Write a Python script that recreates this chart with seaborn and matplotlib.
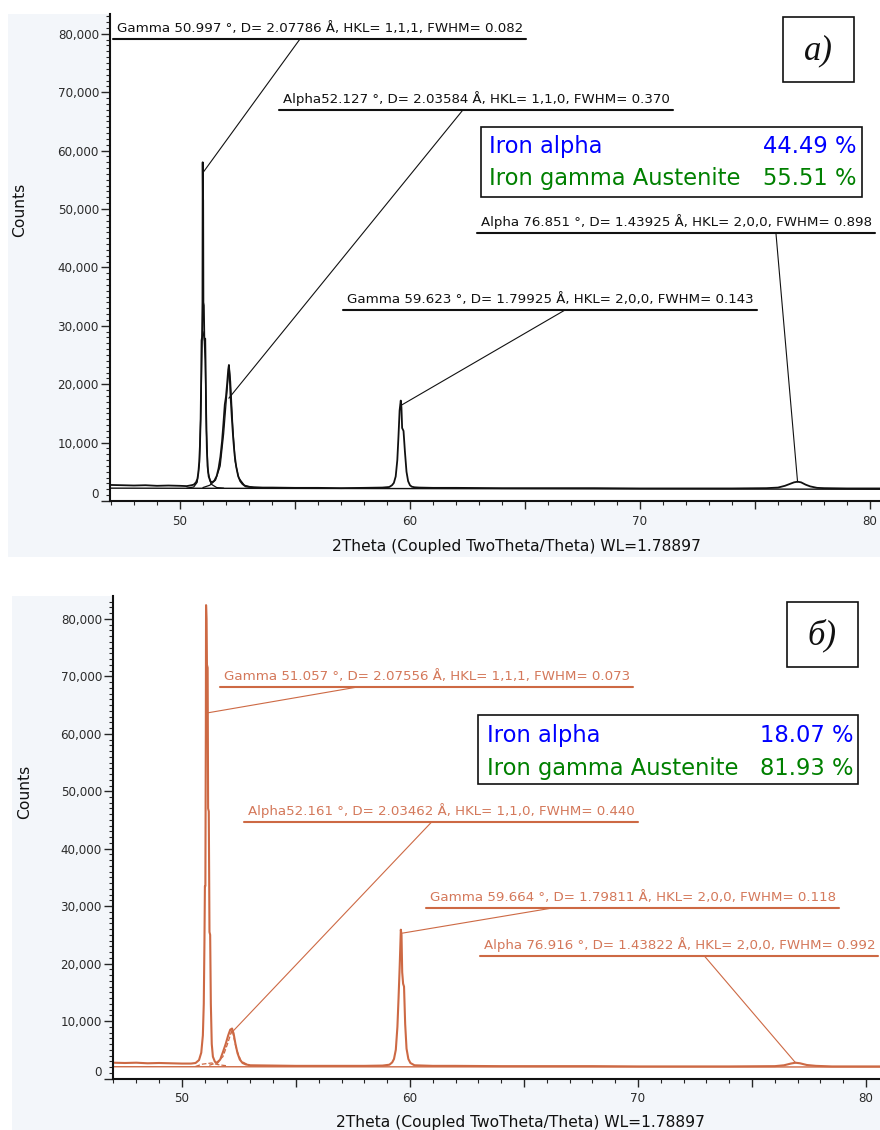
import matplotlib
matplotlib.use("Agg")
import matplotlib.pyplot as plt
import matplotlib.patches as mpatches
import matplotlib.transforms as mtransforms
from matplotlib.ticker import MultipleLocator, FuncFormatter
import seaborn as sns

sns.set_style("ticks")
plt.rcParams["font.family"] = ["DejaVu Sans"]

# ---------------- panel a) : measured pattern ----------------
two_theta_a = [46.96, 47.5, 48.0, 48.5, 49.0, 49.5, 50.0, 50.3, 50.5, 50.6, 50.7, 50.76,
               50.8, 50.84, 50.87, 50.9, 50.92, 50.94, 50.96, 50.98, 50.99, 51.0, 51.01,
               51.02, 51.04, 51.06, 51.08, 51.1, 51.12, 51.14, 51.17, 51.2, 51.25, 51.32,
               51.4, 51.5, 51.6, 51.68, 51.76, 51.83, 51.89, 51.95, 52.0, 52.05, 52.1, 52.13,
               52.16, 52.2, 52.26, 52.32, 52.38, 52.45, 52.53, 52.62, 52.72, 52.85, 53.0, 53.3,
               53.6, 54.0, 55.0, 56.0, 57.0, 58.0, 58.8, 59.1, 59.22, 59.3, 59.38, 59.45,
               59.5, 59.55, 59.6, 59.63, 59.66, 59.72, 59.78, 59.85, 59.92, 60.0, 60.08,
               60.2, 60.4, 61.0, 62.0, 64.0, 66.0, 68.0, 70.0, 72.0, 74.0, 75.5, 76.0, 76.3,
               76.5, 76.7, 76.85, 77.0, 77.2, 77.4, 77.7, 78.0, 79.0, 80.0, 81.0, 82.3]
counts_a = [2750, 2700, 2650, 2700, 2600, 2650, 2600, 2550, 2700, 2800, 3200, 3800,
            4800, 6800, 9500, 14000, 20000, 27500, 28000, 34000, 58000, 52000, 51500,
            34000, 33500, 28000, 27500, 27800, 22000, 15000, 9000, 6000, 4200, 3400,
            3200, 3500, 4300, 5600, 7600, 10200, 13200, 16500, 17800, 20000, 22500, 23300,
            21500, 18000, 14000, 10500, 7800, 5800, 4300, 3400, 2900, 2500, 2400, 2350,
            2300, 2300, 2250, 2250, 2200, 2250, 2300, 2400, 2700, 3100, 4200, 7000,
            11000, 15500, 17200, 16000, 12500, 12000, 8500, 5000, 3400, 2700, 2450,
            2350, 2300, 2250, 2250, 2200, 2200, 2200, 2150, 2150, 2150, 2200, 2300, 2600,
            2900, 3200, 3300, 3200, 2800, 2500, 2250, 2200, 2150, 2150, 2150, 2150]

# fitted phase profiles, panel a)
fit_gamma_tt_a = [50.3, 50.6, 50.75, 50.85, 50.92, 50.97, 51.0, 51.05, 51.1, 51.15, 51.22, 51.35, 51.6, 51.9]
fit_gamma_ct_a = [2200, 2400, 3200, 6500, 17000, 28000, 29000, 28000, 24000, 12000, 5000, 2900, 2300, 2200]
fit_alpha_tt_a = [51.0, 51.3, 51.55, 51.75, 51.9, 52.0, 52.1, 52.15, 52.2, 52.3, 52.4, 52.55, 52.8, 53.2]
fit_alpha_ct_a = [2300, 2700, 3600, 6000, 11500, 16500, 21500, 22500, 20500, 12500, 6800, 4000, 2700, 2300]
background_tt_a = [46.96, 82.3]
background_ct_a = [2200, 2000]

# ---------------- panel б) : measured pattern ----------------
two_theta_b = [46.98, 47.5, 48.0, 48.5, 49.0, 49.5, 50.0, 50.4, 50.6, 50.75, 50.85, 50.92,
               50.96, 50.99, 51.01, 51.03, 51.05, 51.06, 51.08, 51.1, 51.13, 51.15, 51.18,
               51.21, 51.24, 51.27, 51.31, 51.36, 51.45, 51.55, 51.68, 51.8, 51.92, 52.03,
               52.12, 52.2, 52.27, 52.35, 52.44, 52.54, 52.66, 52.8, 53.0, 54.0, 55.0, 56.0,
               57.0, 58.0, 58.8, 59.1, 59.22, 59.3, 59.38, 59.45, 59.5, 59.55, 59.6, 59.63,
               59.66, 59.7, 59.74, 59.79, 59.85, 59.93, 60.02, 60.2, 61.0, 62.0, 64.0, 66.0,
               68.0, 70.0, 72.0, 74.0, 76.0, 76.4, 76.7, 76.9, 77.1, 77.4, 77.8, 78.5, 80.0,
               82.7]
counts_b = [2750, 2700, 2750, 2650, 2700, 2650, 2600, 2600, 2700, 3200, 4500, 7500,
            13000, 24000, 33500, 33500, 60000, 82400, 80000, 72000, 71500, 47000, 46500,
            25500, 25000, 13000, 6000, 3800, 2900, 2700, 3300, 4600, 6000, 7500,
            8500, 8700, 7800, 6000, 4400, 3300, 2700, 2450, 2300, 2250, 2200, 2200,
            2200, 2200, 2250, 2400, 2800, 3400, 5000, 9000, 14000, 19500, 25900, 25000,
            18500, 16500, 16000, 9500, 5200, 3400, 2700, 2300, 2200, 2200, 2150, 2150,
            2150, 2100, 2100, 2100, 2150, 2300, 2600, 2750, 2650, 2350, 2200, 2100, 2100,
            2100]

# fitted phase profiles, panel б)
fit_gamma_tt_b = [50.6, 50.9, 51.3, 51.6, 52.0]
fit_gamma_ct_b = [2100, 2500, 2700, 2400, 2200]
fit_alpha_tt_b = [51.2, 51.5, 51.8, 52.0, 52.2, 52.4, 52.6, 53.0]
fit_alpha_ct_b = [2300, 2700, 3800, 6000, 8500, 5000, 3000, 2200]
background_tt_b = [46.98, 82.7]
background_ct_b = [2050, 2000]

# ---------------- peak identifications ----------------
peak_phase_a = ["Gamma", "Alpha", "Gamma", "Alpha"]
peak_sep_a = [" ", "", " ", " "]
peak_pos_a = [50.997, 52.127, 59.623, 76.851]
peak_d_a = ["2.07786", "2.03584", "1.79925", "1.43925"]
peak_hkl_a = ["1,1,1", "1,1,0", "2,0,0", "2,0,0"]
peak_fwhm_a = ["0.082", "0.370", "0.143", "0.898"]
peak_height_a = [56200, 17600, 16400, 3250]

peak_phase_b = ["Gamma", "Alpha", "Gamma", "Alpha"]
peak_sep_b = [" ", "", " ", " "]
peak_pos_b = [51.057, 52.161, 59.664, 76.916]
peak_d_b = ["2.07556", "2.03462", "1.79811", "1.43822"]
peak_hkl_b = ["1,1,1", "1,1,0", "2,0,0", "2,0,0"]
peak_fwhm_b = ["0.073", "0.440", "0.118", "0.992"]
peak_height_b = [63600, 7900, 25300, 2700]

# ---------------- phase quantification ----------------
phase_names = ["Iron alpha", "Iron gamma Austenite"]
phase_pct_a = [44.49, 55.51]
phase_pct_b = [18.07, 81.93]

# ======================= drawing =======================
W, H = 880, 1130
fig = plt.figure(figsize=(W / 100, H / 100), dpi=100)
fig.patch.set_facecolor("white")


def fbox(l, t, r, b):
    return [l / W, 1 - b / H, (r - l) / W, (b - t) / H]


def fx(px):
    return px / W


def fy(py):
    return 1 - py / H


# light panel backgrounds behind each chart
for (l, t, r, b) in [(8, 14, 880, 557), (12, 596, 880, 1130)]:
    fig.add_artist(mpatches.Rectangle((fx(l), fy(b)), (r - l) / W, (b - t) / H,
                                      transform=fig.transFigure, facecolor="#F3F6FA",
                                      edgecolor="none", zorder=-5))

ax_a = fig.add_axes(fbox(110, 14, 922, 501))
ax_b = fig.add_axes(fbox(113, 596, 927, 1078.5))

BLACK = "#111111"
ORANGE = "#CD6944"
ORANGE_TXT = "#D4785A"
TICK_TXT = "#2a2a2a"


def style_axes(ax, xlim, ylim):
    ax.set_facecolor("white")
    ax.set_xlim(*xlim)
    ax.set_ylim(*ylim)
    for s in ["top", "right"]:
        ax.spines[s].set_visible(False)
    for s in ["left", "bottom"]:
        ax.spines[s].set_linewidth(1.5)
        ax.spines[s].set_color("#111111")
    ax.xaxis.set_major_locator(MultipleLocator(5))
    ax.xaxis.set_minor_locator(MultipleLocator(1))
    ax.xaxis.set_major_formatter(FuncFormatter(lambda v, p: f"{v:.0f}" if round(v) % 10 == 0 else ""))
    ax.yaxis.set_major_locator(MultipleLocator(10000))
    ax.yaxis.set_minor_locator(MultipleLocator(1000))
    ax.yaxis.set_major_formatter(FuncFormatter(lambda v, p: f"{v:,.0f}"))
    ax.tick_params(axis="y", which="major", direction="out", length=6.5, width=1,
                   pad=1.5, labelsize=8.6, labelcolor=TICK_TXT)
    ax.tick_params(axis="y", which="minor", direction="out", length=3, width=0.8)
    ax.tick_params(axis="x", which="major", direction="out", length=5.8, width=1,
                   pad=4, labelsize=8.6, labelcolor=TICK_TXT)
    ax.tick_params(axis="x", which="minor", direction="out", length=3, width=0.8)
    ax.set_xlabel("")
    ax.set_ylabel("")
    ax.grid(False)


def draw_trace(ax, tt, ct, color, lw, ls="-"):
    sns.lineplot(x=tt, y=ct, ax=ax, color=color, linewidth=lw, linestyle=ls,
                 estimator=None, sort=False, legend=False)


# panel a)
draw_trace(ax_a, background_tt_a, background_ct_a, BLACK, 1.0)
draw_trace(ax_a, fit_gamma_tt_a, fit_gamma_ct_a, BLACK, 0.9)
draw_trace(ax_a, fit_alpha_tt_a, fit_alpha_ct_a, BLACK, 0.9)
draw_trace(ax_a, two_theta_a, counts_a, BLACK, 1.3)
style_axes(ax_a, (46.96, 82.26), (0, 83390))

# panel б)
draw_trace(ax_b, background_tt_b, background_ct_b, ORANGE, 1.0)
draw_trace(ax_b, fit_gamma_tt_b, fit_gamma_ct_b, ORANGE, 0.9, "--")
draw_trace(ax_b, fit_alpha_tt_b, fit_alpha_ct_b, ORANGE, 0.9, "--")
draw_trace(ax_b, two_theta_b, counts_b, ORANGE, 1.5)
style_axes(ax_b, (46.98, 82.67), (0, 83990))

# peak labels: text left edge, underline level, leader start (data units)
label_layout_a = [(47.26, 79110, 55.22), (54.48, 66950, 62.30),
                  (57.26, 32700, 66.74), (63.09, 45890, 75.91)]
label_layout_b = [(51.84, 68150, 57.71), (52.89, 44650, 60.95),
                  (60.86, 29680, 66.25), (63.23, 21320, 72.91)]


def place_labels(ax, phases, seps, pos, dvals, hkls, fwhms, heights, layout, tcolor):
    items = []
    tr = mtransforms.offset_copy(ax.transData, fig=fig, x=0, y=7, units="dots")
    for ph, sp, p, d, hkl, fw, h, (tx, ty, lx) in zip(phases, seps, pos, dvals, hkls,
                                                    fwhms, heights, layout):
        txt = f"{ph}{sp}{p:.3f} °, D= {d} Å, HKL= {hkl}, FWHM= {fw}"
        t = ax.text(tx, ty, txt, transform=tr, ha="left", va="baseline",
                    fontsize=9.6, color=tcolor, zorder=5)
        items.append((t, ty, lx, p, h))
    return items


labels_a = place_labels(ax_a, peak_phase_a, peak_sep_a, peak_pos_a, peak_d_a, peak_hkl_a,
                        peak_fwhm_a, peak_height_a, label_layout_a, BLACK)
labels_b = place_labels(ax_b, peak_phase_b, peak_sep_b, peak_pos_b, peak_d_b, peak_hkl_b,
                        peak_fwhm_b, peak_height_b, label_layout_b, ORANGE_TXT)

fig.canvas.draw()
renderer = fig.canvas.get_renderer()


def finish_labels(ax, items, lcolor):
    inv = ax.transData.inverted()
    for t, ty, lx, p, h in items:
        bb = t.get_window_extent(renderer)
        yline = ax.transData.transform((0, ty))[1]
        x0 = inv.transform((bb.x0 - 4, yline))[0]
        x1 = inv.transform((bb.x1 + 3, yline))[0]
        ax.plot([x0, x1], [ty, ty], color=lcolor, lw=1.5, clip_on=False, zorder=5)
        ax.plot([lx, p], [ty, h], color=lcolor, lw=0.8, clip_on=False, zorder=5)


finish_labels(ax_a, labels_a, BLACK)
finish_labels(ax_b, labels_b, ORANGE)

# lift the zero tick label slightly above the axis line
for ax in (ax_a, ax_b):
    for tk in ax.yaxis.get_major_ticks():
        if abs(tk.get_loc()) < 1:
            tk.label1.set_verticalalignment("bottom")

# axis titles
for (x, y) in [(20, 210), (25, 792)]:
    fig.text(fx(x), fy(y), "Counts", rotation=90, ha="center", va="center",
             fontsize=11.2, color=BLACK)
for (x, y) in [(516, 547), (520, 1123)]:
    fig.text(fx(x), fy(y), "2Theta (Coupled TwoTheta/Theta) WL=1.78897", ha="center",
             va="center", fontsize=11.2, color=BLACK)


# phase fraction boxes
def phase_box(l, t, r, b, base1, base2, text_left, text_right, pcts):
    fig.add_artist(mpatches.Rectangle((fx(l), fy(b)), (r - l) / W, (b - t) / H,
                                      transform=fig.transFigure, facecolor="white",
                                      edgecolor=BLACK, lw=1.2, zorder=6))
    cols = ["#0000FF", "#008000"]
    for name, pct, base, c in zip(phase_names, pcts, [base1, base2], cols):
        fig.text(fx(text_left), fy(base), name, ha="left", va="baseline",
                 fontsize=16.3, color=c, zorder=7)
        fig.text(fx(text_right), fy(base), f"{pct:.2f} %", ha="right", va="baseline",
                 fontsize=16.3, color=c, zorder=7)


phase_box(481, 127, 862, 197, 153, 185, 489, 856, phase_pct_a)
phase_box(478, 715, 858, 784, 742, 775, 487, 853, phase_pct_b)

# panel letters
for (l, t, r, b, s) in [(783, 17, 854, 82, "a)"), (787, 602, 858, 667, "б)")]:
    fig.add_artist(mpatches.Rectangle((fx(l), fy(b)), (r - l) / W, (b - t) / H,
                                      transform=fig.transFigure, facecolor="white",
                                      edgecolor=BLACK, lw=1.2, zorder=6))
    fig.text(fx((l + r) / 2), fy((t + b) / 2 + 1), s, ha="center", va="center",
             fontsize=25, family="Liberation Serif", style="italic", color=BLACK, zorder=7)

fig.savefig("out.png", dpi=100)
